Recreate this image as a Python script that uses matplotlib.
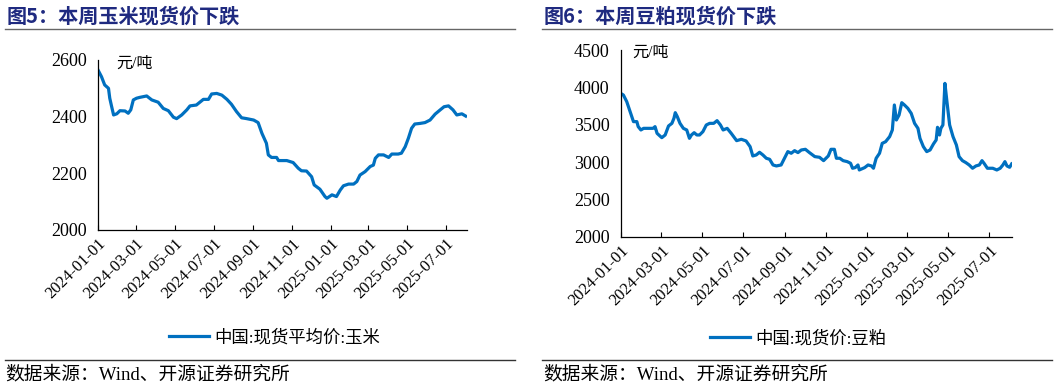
import matplotlib
matplotlib.use("Agg")
import matplotlib.pyplot as plt
import matplotlib.dates as mdates
import pandas as pd

plt.rcParams['font.family'] = ['Liberation Serif', 'Noto Sans CJK SC', 'DejaVu Sans']

BLUE = '#0070C0'
NAVY = '#1F2A80'
CJK = ['Liberation Serif', 'Noto Sans CJK SC']

# 玉米现货平均价 (元/吨)
corn_dates = [
    '2024-01-01', '2024-01-07', '2024-01-12', '2024-01-18', '2024-01-20', '2024-01-23',
    '2024-01-26', '2024-01-31', '2024-02-05', '2024-02-13', '2024-02-18', '2024-02-22',
    '2024-02-26', '2024-03-02', '2024-03-07', '2024-03-18', '2024-03-26', '2024-04-05',
    '2024-04-13', '2024-04-21', '2024-04-29', '2024-05-04', '2024-05-12', '2024-05-20',
    '2024-05-25', '2024-06-04', '2024-06-15', '2024-06-23', '2024-06-28', '2024-07-06',
    '2024-07-14', '2024-07-22', '2024-07-29', '2024-08-06', '2024-08-14', '2024-08-22',
    '2024-09-02', '2024-09-09', '2024-09-15', '2024-09-22', '2024-09-25', '2024-09-30',
    '2024-10-08', '2024-10-11', '2024-10-24', '2024-11-03', '2024-11-11', '2024-11-16',
    '2024-11-24', '2024-12-02', '2024-12-06', '2024-12-15', '2024-12-23', '2024-12-26',
    '2025-01-03', '2025-01-10', '2025-01-16', '2025-01-21', '2025-01-29', '2025-02-06',
    '2025-02-11', '2025-02-16', '2025-02-24', '2025-03-04', '2025-03-09', '2025-03-12',
    '2025-03-17', '2025-03-25', '2025-04-02', '2025-04-07', '2025-04-17', '2025-04-22',
    '2025-04-28', '2025-05-03', '2025-05-08', '2025-05-13', '2025-05-21', '2025-05-29',
    '2025-06-06', '2025-06-14', '2025-06-22', '2025-06-28', '2025-07-05', '2025-07-12',
    '2025-07-18', '2025-07-26', '2025-08-01',
]
corn_price = [
    2567, 2541, 2512, 2500, 2465, 2435,
    2406, 2410, 2421, 2420, 2412, 2424,
    2459, 2465, 2468, 2473, 2459, 2451,
    2429, 2421, 2398, 2393, 2406, 2424,
    2438, 2441, 2461, 2461, 2480, 2482,
    2476, 2461, 2444, 2418, 2396, 2393,
    2388, 2379, 2341, 2306, 2265, 2256,
    2256, 2245, 2245, 2238, 2218, 2209,
    2208, 2188, 2159, 2144, 2118, 2112,
    2124, 2118, 2141, 2156, 2162, 2162,
    2171, 2194, 2206, 2224, 2229, 2253,
    2265, 2265, 2256, 2268, 2268, 2271,
    2294, 2324, 2359, 2374, 2376, 2379,
    2388, 2409, 2424, 2435, 2438, 2424,
    2406, 2410, 2402,
]

# 豆粕现货价 (元/吨)
meal_dates = [
    '2024-01-01', '2024-01-05', '2024-01-10', '2024-01-15', '2024-01-20', '2024-01-25',
    '2024-01-27', '2024-01-31', '2024-02-04', '2024-02-11', '2024-02-18', '2024-02-21',
    '2024-02-24', '2024-03-02', '2024-03-07', '2024-03-12', '2024-03-17', '2024-03-20',
    '2024-03-22', '2024-03-25', '2024-03-29', '2024-04-03', '2024-04-08', '2024-04-12',
    '2024-04-15', '2024-04-19', '2024-04-23', '2024-04-27', '2024-05-02', '2024-05-07',
    '2024-05-12', '2024-05-18', '2024-05-23', '2024-05-28', '2024-06-01', '2024-06-07',
    '2024-06-13', '2024-06-21', '2024-06-28', '2024-07-05', '2024-07-11', '2024-07-15',
    '2024-07-20', '2024-07-25', '2024-07-30', '2024-08-04', '2024-08-09', '2024-08-14',
    '2024-08-19', '2024-08-26', '2024-08-31', '2024-09-05', '2024-09-10', '2024-09-15',
    '2024-09-20', '2024-09-25', '2024-10-01', '2024-10-07', '2024-10-15', '2024-10-22',
    '2024-10-28', '2024-11-04', '2024-11-08', '2024-11-13', '2024-11-16', '2024-11-21',
    '2024-11-26', '2024-12-02', '2024-12-07', '2024-12-10', '2024-12-14', '2024-12-18',
    '2024-12-20', '2024-12-28', '2025-01-02', '2025-01-07', '2025-01-10', '2025-01-14',
    '2025-01-19', '2025-01-23', '2025-01-28', '2025-02-03', '2025-02-07', '2025-02-10',
    '2025-02-13', '2025-02-17', '2025-02-21', '2025-02-25', '2025-03-02', '2025-03-07',
    '2025-03-12', '2025-03-17', '2025-03-20', '2025-03-25', '2025-03-30', '2025-04-04',
    '2025-04-09', '2025-04-13', '2025-04-15', '2025-04-18', '2025-04-20', '2025-04-23',
    '2025-04-26', '2025-04-29', '2025-05-03', '2025-05-08', '2025-05-13', '2025-05-17',
    '2025-05-22', '2025-05-27', '2025-06-01', '2025-06-06', '2025-06-11', '2025-06-16',
    '2025-06-20', '2025-06-23', '2025-06-28', '2025-07-06', '2025-07-12', '2025-07-17',
    '2025-07-21', '2025-07-24', '2025-07-27', '2025-07-31', '2025-08-03',
]
meal_price = [
    3924, 3902, 3813, 3679, 3545, 3545,
    3478, 3433, 3455, 3455, 3455, 3478,
    3388, 3330, 3366, 3487, 3522, 3589,
    3665, 3612, 3522, 3455, 3433, 3321,
    3366, 3397, 3366, 3366, 3411, 3500,
    3522, 3522, 3558, 3500, 3433, 3455,
    3388, 3290, 3308, 3286, 3210, 3085,
    3098, 3134, 3098, 3054, 3040, 2964,
    2951, 2964, 3054, 3143, 3121, 3156,
    3130, 3165, 3174, 3130, 3076, 3067,
    3022, 3085, 3174, 3174, 3054, 3054,
    3022, 3009, 2987, 2920, 2929, 2964,
    2897, 2929, 2964, 2951, 2920, 3054,
    3121, 3254, 3276, 3344, 3433, 3768,
    3567, 3634, 3799, 3768, 3723, 3656,
    3522, 3455, 3321, 3210, 3143, 3165,
    3246, 3299, 3469, 3366, 3455, 3500,
    4058, 3813, 3500, 3344, 3232, 3076,
    3022, 2996, 2964, 2920, 2951, 2964,
    3022, 2987, 2920, 2920, 2897, 2920,
    2964, 3009, 2951, 2933, 2978,
]

tick_dates = ['2024-01-01', '2024-03-01', '2024-05-01', '2024-07-01', '2024-09-01',
              '2024-11-01', '2025-01-01', '2025-03-01', '2025-05-01', '2025-07-01']
x_start, x_end = '2024-01-01', '2025-08-03'

panels = [
    dict(title='图5：本周玉米现货价下跌', dates=corn_dates, values=corn_price,
         label='中国:现货平均价:玉米', yticks=[2000, 2200, 2400, 2600],
         rect=[0.0924, 0.4103, 0.3494, 0.4359], unit_xy=(0.05, 0.976),
         title_x=7, rule=(5, 515), leg_xy=(275, 338), src_x=5),
    dict(title='图6：本周豆粕现货价下跌', dates=meal_dates, values=meal_price,
         label='中国:现货价:豆粕', yticks=[2000, 2500, 3000, 3500, 4000, 4500],
         rect=[0.5872, 0.3926, 0.3699, 0.4782], unit_xy=(0.03, 0.99),
         title_x=544, rule=(542, 1052), leg_xy=(798, 339), src_x=543),
]

W, H = 1057, 390
fig = plt.figure(figsize=(W / 100, H / 100), dpi=100)

for p in panels:
    ax = fig.add_axes(p['rect'])
    x = pd.to_datetime(p['dates'])
    line, = ax.plot(x, p['values'], color=BLUE, lw=2.3, solid_joinstyle='round',
                    label=p['label'])
    ax.set_xlim(pd.Timestamp(x_start), pd.Timestamp(x_end))
    ax.set_ylim(p['yticks'][0], p['yticks'][-1])
    ax.set_yticks(p['yticks'])
    ax.set_xticks(pd.to_datetime(tick_dates))
    ax.xaxis.set_major_formatter(mdates.DateFormatter('%Y-%m-%d'))
    for s in ['top', 'right']:
        ax.spines[s].set_visible(False)
    for s in ['left', 'bottom']:
        ax.spines[s].set_linewidth(0.9)
    ax.tick_params(axis='y', length=0, pad=8, labelsize=13)
    ax.tick_params(axis='x', direction='in', length=3.5, width=0.8, pad=4, labelsize=12)
    for lab in ax.get_xticklabels():
        lab.set_rotation(45)
        lab.set_ha('right')
        lab.set_va('top')
        lab.set_rotation_mode('anchor')
    ax.text(p['unit_xy'][0], p['unit_xy'][1], '元/吨', transform=ax.transAxes,
            fontsize=11.5, family=CJK, va='center', ha='left')

    fig.text(p['title_x'] / W, 1 - 16 / H, p['title'], fontsize=14.5, fontweight='bold',
             color=NAVY, family=['Noto Sans CJK SC'], va='center', ha='left')
    fig.add_artist(plt.Line2D([p['rule'][0] / W, p['rule'][1] / W], [1 - 29 / H] * 2,
                              color='#666666', lw=1.0))
    fig.add_artist(plt.Line2D([p['rule'][0] / W, p['rule'][1] / W], [1 - 360 / H] * 2,
                              color='#333333', lw=1.0))
    fig.legend(handles=[line], loc='center',
               bbox_to_anchor=(p['leg_xy'][0] / W, 1 - p['leg_xy'][1] / H),
               frameon=False, prop={'family': CJK, 'size': 12.5},
               handlelength=2.3, handletextpad=0.3)
    fig.text(p['src_x'] / W, 1 - 375 / H, '数据来源：Wind、开源证券研究所',
             fontsize=13.5, family=CJK, va='center', ha='left')

fig.savefig('out.png', dpi=100)
